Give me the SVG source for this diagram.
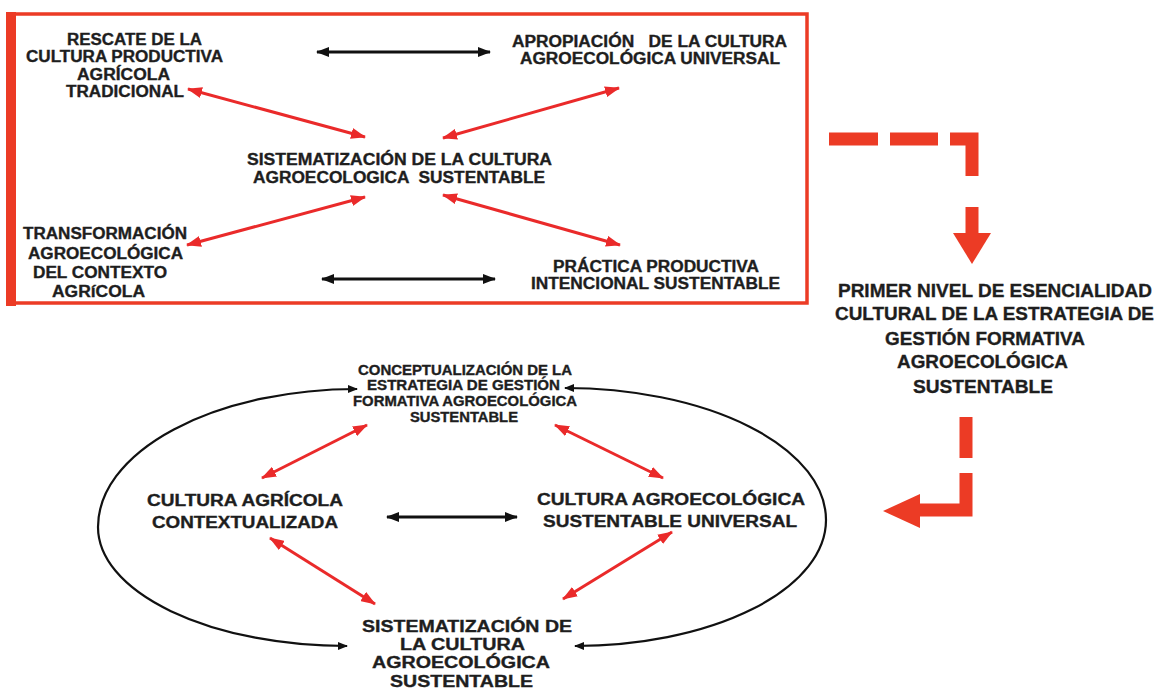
<svg xmlns="http://www.w3.org/2000/svg" width="1159" height="689" viewBox="0 0 1159 689">
<style>
text{font-family:"Liberation Sans",Arial,sans-serif;font-weight:bold;fill:#1e1e1e;stroke:#1e1e1e;stroke-width:0.35;text-anchor:middle}
.t16{font-size:16px}
.t19{font-size:19px}
.t14{font-size:14px}
.red{stroke:#ea2a2a;stroke-width:3;fill:none;marker-start:url(#rh);marker-end:url(#rh)}
.blk{stroke:#111;stroke-width:3;fill:none;marker-start:url(#bh);marker-end:url(#bh)}
.arc{stroke:#111;stroke-width:2.2;fill:none;marker-start:url(#sh);marker-end:url(#sh)}
.dash{stroke:#ec3b25;stroke-width:13;fill:none;stroke-linejoin:miter}
</style>
<defs>
<marker id="rh" viewBox="0 0 15 11" markerWidth="15" markerHeight="11" refX="14" refY="5.5" orient="auto-start-reverse" markerUnits="userSpaceOnUse"><path d="M0,0 L15,5.5 L0,11 z" fill="#ea2a2a"/></marker>
<marker id="bh" viewBox="0 0 13 10" markerWidth="13" markerHeight="10" refX="12" refY="5" orient="auto-start-reverse" markerUnits="userSpaceOnUse"><path d="M0,0 L13,5 L0,10 z" fill="#111"/></marker>
<marker id="sh" viewBox="0 0 10 8" markerWidth="10" markerHeight="8" refX="9" refY="4" orient="auto-start-reverse" markerUnits="userSpaceOnUse"><path d="M0,0 L10,4 L0,8 z" fill="#111"/></marker>
</defs>
<rect x="0" y="0" width="1159" height="689" fill="#fff"/>
<g id="frame">
<rect x="11" y="14" width="796" height="289" fill="none" stroke="#ec3b25" stroke-width="3.5"/>
<rect x="6" y="12" width="10" height="294" fill="#ec3b25"/>
</g>
<g id="connectors">
<line class="blk" x1="317" y1="52" x2="490" y2="52"/>
<line class="blk" x1="322" y1="279" x2="495" y2="279"/>
<line class="red" x1="188" y1="89" x2="365" y2="137"/>
<line class="red" x1="619" y1="88" x2="443" y2="138"/>
<line class="red" x1="365" y1="197" x2="187" y2="245"/>
<line class="red" x1="443" y1="195" x2="620" y2="245"/>
<line class="blk" x1="387" y1="517" x2="517" y2="517"/>
<line class="red" x1="367" y1="425" x2="262" y2="478"/>
<line class="red" x1="555" y1="425" x2="663" y2="478"/>
<line class="red" x1="270" y1="538" x2="375" y2="604"/>
<line class="red" x1="672" y1="532" x2="563" y2="599"/>
<path class="arc" d="M357,389 A259,138 0 0 0 98,527 A249,119 0 0 0 347,646"/>
<path class="arc" d="M565,388 A261,132 0 0 1 826,520 A251,126 0 0 1 575,646"/>
<g id="dashed-arrow-1">
<path class="dash" d="M829,139 H878"/>
<path class="dash" d="M890,139 H938"/>
<path class="dash" d="M950,139 H972 V176"/>
<path class="dash" d="M972,207 V235"/>
<polygon points="953,233 991,233 972,264" fill="#ec3b25"/>
</g>
<g id="dashed-arrow-2">
<path class="dash" d="M966,417 V458"/>
<path class="dash" d="M966,473 V510 H918"/>
<polygon points="920,494 920,528 883,511" fill="#ec3b25"/>
</g>
</g>
<g id="rescate" class="t16">
<text x="134.5" y="45" textLength="135" lengthAdjust="spacingAndGlyphs">RESCATE DE LA</text>
<text x="124.5" y="62" textLength="197" lengthAdjust="spacingAndGlyphs">CULTURA PRODUCTIVA</text>
<text x="123.5" y="80" textLength="93" lengthAdjust="spacingAndGlyphs">AGRÍCOLA</text>
<text x="125" y="97" textLength="118" lengthAdjust="spacingAndGlyphs">TRADICIONAL</text>
</g>
<g id="apropiacion" class="t16">
<text x="649.5" y="47" textLength="275" lengthAdjust="spacingAndGlyphs" xml:space="preserve">APROPIACIÓN   DE LA CULTURA</text>
<text x="650" y="64" textLength="260" lengthAdjust="spacingAndGlyphs">AGROECOLÓGICA UNIVERSAL</text>
</g>
<g id="sistematizacion-top" class="t16">
<text x="399.5" y="165" textLength="305" lengthAdjust="spacingAndGlyphs">SISTEMATIZACIÓN DE LA CULTURA</text>
<text x="399" y="183" textLength="292" lengthAdjust="spacingAndGlyphs" xml:space="preserve">AGROECOLOGICA  SUSTENTABLE</text>
</g>
<g id="transformacion" class="t16">
<text x="105" y="239" textLength="164" lengthAdjust="spacingAndGlyphs">TRANSFORMACIÓN</text>
<text x="105.5" y="259" textLength="155" lengthAdjust="spacingAndGlyphs">AGROECOLÓGICA</text>
<text x="100" y="278" textLength="134" lengthAdjust="spacingAndGlyphs">DEL CONTEXTO</text>
<text x="98.5" y="297" textLength="93" lengthAdjust="spacingAndGlyphs">AGRíCOLA</text>
</g>
<g id="practica" class="t16">
<text x="656" y="272" textLength="206" lengthAdjust="spacingAndGlyphs">PRÁCTICA PRODUCTIVA</text>
<text x="655.5" y="289" textLength="249" lengthAdjust="spacingAndGlyphs">INTENCIONAL SUSTENTABLE</text>
</g>
<g id="primer-nivel" class="t19">
<text x="995" y="297" textLength="314" lengthAdjust="spacingAndGlyphs">PRIMER NIVEL DE ESENCIALIDAD</text>
<text x="994.5" y="320" textLength="319" lengthAdjust="spacingAndGlyphs">CULTURAL DE LA ESTRATEGIA DE</text>
<text x="985" y="345" textLength="200" lengthAdjust="spacingAndGlyphs">GESTIÓN FORMATIVA</text>
<text x="982.5" y="368" textLength="171" lengthAdjust="spacingAndGlyphs">AGROECOLÓGICA</text>
<text x="983" y="393" textLength="140" lengthAdjust="spacingAndGlyphs">SUSTENTABLE</text>
</g>
<g id="conceptualizacion" class="t14">
<text x="465" y="375" textLength="214" lengthAdjust="spacingAndGlyphs">CONCEPTUALIZACIÓN DE LA</text>
<text x="463.5" y="390" textLength="193" lengthAdjust="spacingAndGlyphs">ESTRATEGIA DE GESTIÓN</text>
<text x="465" y="406" textLength="224" lengthAdjust="spacingAndGlyphs">FORMATIVA AGROECOLÓGICA</text>
<text x="464" y="422" textLength="108" lengthAdjust="spacingAndGlyphs">SUSTENTABLE</text>
</g>
<g id="cultura-agricola" class="t16">
<text x="245" y="506" textLength="196" lengthAdjust="spacingAndGlyphs">CULTURA AGRÍCOLA</text>
<text x="245" y="528" textLength="186" lengthAdjust="spacingAndGlyphs">CONTEXTUALIZADA</text>
</g>
<g id="cultura-agroecologica" class="t16">
<text x="671" y="505" textLength="268" lengthAdjust="spacingAndGlyphs">CULTURA AGROECOLÓGICA</text>
<text x="670" y="527" textLength="254" lengthAdjust="spacingAndGlyphs">SUSTENTABLE UNIVERSAL</text>
</g>
<g id="sistematizacion-bottom" class="t16">
<text x="467" y="632" textLength="210" lengthAdjust="spacingAndGlyphs">SISTEMATIZACIÓN DE</text>
<text x="462.5" y="650" textLength="125" lengthAdjust="spacingAndGlyphs">LA CULTURA</text>
<text x="461" y="668" textLength="178" lengthAdjust="spacingAndGlyphs">AGROECOLÓGICA</text>
<text x="461.5" y="687" textLength="143" lengthAdjust="spacingAndGlyphs">SUSTENTABLE</text>
</g>
</svg>
